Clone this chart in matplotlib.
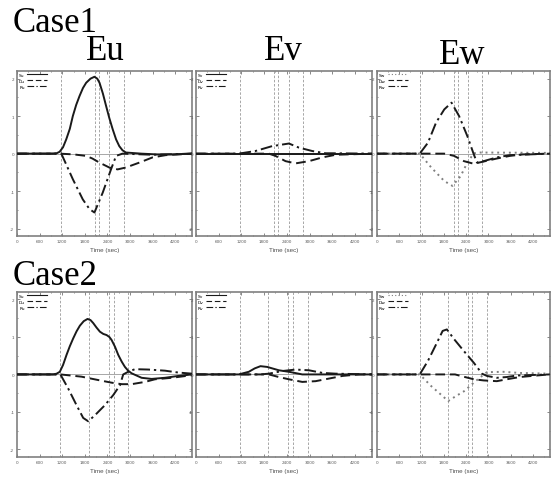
import matplotlib.pyplot as plt
from matplotlib.ticker import MultipleLocator

# ---- data (time in sec, values dimensionless) ----
times_xlim = 4650
xticks = [0, 600, 1200, 1800, 2400, 3000, 3600, 4200]

# Case1
c1_vlines = [1160, 2060, 2170, 2450, 2830]
c1_su_t = [0, 950, 1050, 1130, 1220, 1305, 1400, 1480, 1570, 1660, 1750, 1835, 1950, 2055, 2130, 2190,
           2280, 2365, 2450, 2540, 2630, 2715, 2800, 2890, 3300, 3700, 4100, 4650]
c1_su = [0, 0, 0.01, 0.05, 0.17, 0.38, 0.66, 1.0, 1.3, 1.54, 1.75, 1.89, 2.0, 2.05, 2.0, 1.89,
         1.6, 1.27, 0.95, 0.65, 0.38, 0.2, 0.09, 0.03, 0, -0.02, -0.02, 0]
c1_du_t = [0, 1130, 1500, 1835, 2000, 2190, 2450, 2670, 2890, 3245, 3600, 3950, 4650]
c1_du = [0, 0, -0.02, -0.06, -0.13, -0.24, -0.37, -0.42, -0.37, -0.24, -0.1, -0.04, 0]
c1_ru_t = [0, 1175, 1480, 1745, 1925, 2055, 2275, 2495, 2630, 2800, 3600, 4650]
c1_ru = [0, 0, -0.68, -1.22, -1.48, -1.57, -1.04, -0.42, -0.06, 0, -0.03, 0]

c1_sv_t = [0, 4650]
c1_sv = [0, 0]
c1_dv_t = [0, 1925, 2100, 2365, 2630, 2985, 3340, 3690, 4650]
c1_dv = [0, 0, -0.06, -0.2, -0.26, -0.2, -0.1, -0.03, 0]
c1_rv_t = [0, 1130, 1570, 2010, 2455, 2720, 3070, 3425, 3600, 4650]
c1_rv = [0, 0, 0.07, 0.2, 0.27, 0.16, 0.07, 0.01, 0.01, 0]

c1_sw_t = [0, 1150, 1460, 1810, 2030, 2250, 2430, 2605, 2780, 4650]
c1_sw = [0, 0, -0.37, -0.73, -0.86, -0.6, -0.24, 0.01, 0.03, 0.02]
c1_dw_t = [0, 1810, 2075, 2340, 2605, 2870, 3225, 3575, 3930, 4650]
c1_dw = [0, 0, -0.06, -0.2, -0.27, -0.21, -0.13, -0.06, -0.02, 0]
c1_rw_t = [0, 1150, 1370, 1590, 1810, 2005, 2210, 2430, 2605, 2690, 2870, 3225, 3575, 4650]
c1_rw = [0, 0, 0.29, 0.83, 1.18, 1.36, 1.0, 0.47, -0.02, -0.24, -0.2, -0.1, -0.04, 0]

# Case2
c2_vlines = [1150, 1915, 2440, 2565, 2950]
c2_su_t = [0, 960, 1050, 1135, 1220, 1313, 1400, 1490, 1580, 1668, 1770, 1872, 1950, 2022, 2110, 2200,
           2290, 2377, 2450, 2510, 2600, 2688, 2780, 2865, 2950, 3042, 3308, 3575, 3930, 4284, 4650]
c2_su = [0, 0, 0.02, 0.07, 0.25, 0.52, 0.75, 0.96, 1.15, 1.3, 1.42, 1.48, 1.45, 1.37, 1.25, 1.14,
         1.08, 1.05, 1.0, 0.92, 0.74, 0.52, 0.34, 0.2, 0.1, 0.03, -0.09, -0.12, -0.09, -0.04, 0]
c2_du_t = [0, 1150, 1712, 2155, 2510, 2776, 3042, 3397, 3663, 4107, 4650]
c2_du = [0, 0, -0.06, -0.15, -0.22, -0.26, -0.26, -0.2, -0.13, -0.09, -0.02]
c2_ru_t = [0, 1150, 1357, 1579, 1756, 1890, 2067, 2333, 2555, 2732, 2820, 2953, 3131, 3486, 3930, 4284, 4650]
c2_ru = [0, 0, -0.375, -0.82, -1.16, -1.25, -1.09, -0.82, -0.55, -0.29, 0, 0.07, 0.14, 0.13, 0.1, 0.05, 0.02]

c2_sv_t = [0, 1130, 1395, 1550, 1704, 1880, 2190, 2455, 2808, 4650]
c2_sv = [0, 0, 0.07, 0.16, 0.22, 0.2, 0.11, 0.07, 0, 0]
c2_dv_t = [0, 1925, 2190, 2455, 2808, 3160, 3515, 3870, 4300, 4650]
c2_dv = [0, 0, -0.07, -0.13, -0.2, -0.18, -0.11, -0.04, 0, 0]
c2_rv_t = [0, 1700, 1925, 2278, 2630, 2985, 3340, 3690, 4650]
c2_rv = [0, 0, 0.02, 0.09, 0.13, 0.11, 0.04, 0.02, 0]

c2_sw_t = [0, 1150, 1457, 1722, 1916, 2120, 2340, 2605, 2826, 2958, 3400, 3840, 4650]
c2_sw = [0, 0, -0.31, -0.54, -0.71, -0.58, -0.45, -0.22, -0.04, 0.06, 0.07, 0.04, 0.02]
c2_dw_t = [0, 2100, 2250, 2605, 2870, 3225, 3490, 3840, 4283, 4650]
c2_dw = [0, 0, -0.04, -0.13, -0.16, -0.18, -0.13, -0.07, -0.03, 0]
c2_rw_t = [0, 1150, 1370, 1590, 1766, 1880, 2075, 2340, 2605, 2826, 2958, 3225, 3490, 3752, 4650]
c2_rw = [0, 0, 0.36, 0.8, 1.16, 1.2, 0.94, 0.62, 0.31, 0.02, -0.04, -0.09, -0.07, -0.03, 0]

SOLID = '-'
DASH = (0, (5, 2.5))
DASHDOT = (0, (6, 2, 1.2, 2))
DOT = (0, (1, 2))

fig = plt.figure(figsize=(5.52, 4.81), dpi=100)

col_left = [0.031, 0.355, 0.683]
col_width = [0.317, 0.319, 0.313]
row_bottom = [0.507, 0.048]
row_height = 0.343


def panel(ax, curves, vlines):
    ax.set_xlim(0, times_xlim)
    ax.set_ylim(-2.2, 2.2)
    for v in vlines:
        ax.axvline(v, color='0.6', lw=0.6, ls=(0, (3, 2)), zorder=1)
    ax.axhline(0, color='0.6', lw=0.6, zorder=1)
    for t, y, lab, ls, col in curves:
        ax.plot(t, y, ls=ls, color=col, lw=1.4, label=lab, zorder=3)
    ax.set_xticks(xticks)
    ax.xaxis.set_minor_locator(MultipleLocator(300))
    ax.set_yticks([-2, -1, 0, 1, 2])
    ax.set_yticklabels(['-2', '-1', '0', '1', '2'])
    ax.yaxis.set_minor_locator(MultipleLocator(0.5))
    ax.tick_params(which='both', direction='in', top=True, right=True,
                   labelsize=3, colors='0.35', length=2, width=0.5, pad=2)
    ax.tick_params(which='minor', length=1)
    for s in ax.spines.values():
        s.set_color('0.5')
        s.set_linewidth(1.2)
    ax.set_xlabel('Time (sec)', fontsize=4.5, color='0.3', labelpad=3,
                  family='Liberation Sans')
    leg = ax.legend(loc='upper left', fontsize=3.2, frameon=False, markerfirst=False,
                    handlelength=4.5, handletextpad=0.6, labelspacing=0.45,
                    borderaxespad=0.15, borderpad=0.2)
    for h in leg.get_lines():
        h.set_linewidth(0.8)


k = '0.1'
g = '0.5'
rows = [
    [
        ([(c1_su_t, c1_su, 'Su', SOLID, k), (c1_du_t, c1_du, 'Du', DASH, k), (c1_ru_t, c1_ru, 'Ru', DASHDOT, k)], c1_vlines),
        ([(c1_sv_t, c1_sv, 'Sv', SOLID, k), (c1_dv_t, c1_dv, 'Dv', DASH, k), (c1_rv_t, c1_rv, 'Rv', DASHDOT, k)], c1_vlines),
        ([(c1_sw_t, c1_sw, 'Sw', DOT, g), (c1_dw_t, c1_dw, 'Dw', DASH, k), (c1_rw_t, c1_rw, 'Rw', DASHDOT, k)], c1_vlines),
    ],
    [
        ([(c2_su_t, c2_su, 'Su', SOLID, k), (c2_du_t, c2_du, 'Du', DASH, k), (c2_ru_t, c2_ru, 'Ru', DASHDOT, k)], c2_vlines),
        ([(c2_sv_t, c2_sv, 'Sv', SOLID, k), (c2_dv_t, c2_dv, 'Dv', DASH, k), (c2_rv_t, c2_rv, 'Rv', DASHDOT, k)], c2_vlines),
        ([(c2_sw_t, c2_sw, 'Sw', DOT, g), (c2_dw_t, c2_dw, 'Dw', DASH, k), (c2_rw_t, c2_rw, 'Rw', DASHDOT, k)], c2_vlines),
    ],
]

for r, row in enumerate(rows):
    for c, (curves, vl) in enumerate(row):
        ax = fig.add_axes([col_left[c], row_bottom[r], col_width[c], row_height])
        panel(ax, curves, vl)

serif = 'Liberation Serif'
fig.text(0.022, 0.933, 'Case1', fontsize=25, family=serif, va='baseline')
fig.text(0.022, 0.407, 'Case2', fontsize=25, family=serif, va='baseline')
fig.text(0.19, 0.875, 'Eu', fontsize=25, family=serif, ha='center', va='baseline')
fig.text(0.514, 0.875, 'Ev', fontsize=25, family=serif, ha='center', va='baseline')
fig.text(0.838, 0.867, 'Ew', fontsize=25, family=serif, ha='center', va='baseline')

fig.savefig('out.png', dpi=100)
